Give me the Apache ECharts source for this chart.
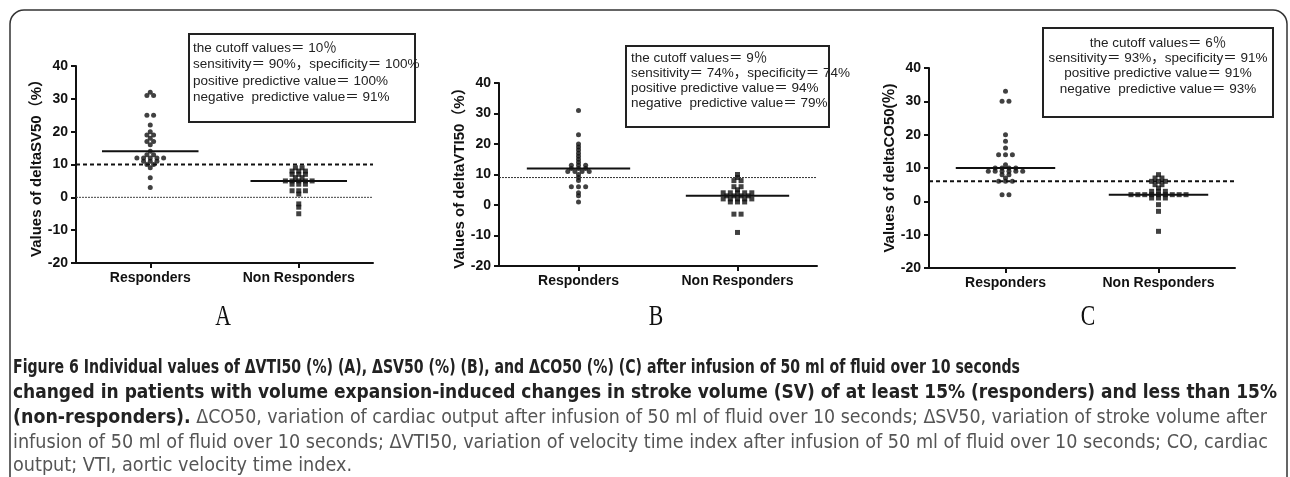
<!DOCTYPE html>
<html>
<head>
    <meta charset="utf-8">
    <title>Figure 6</title>
    <script src="https://cdn.jsdelivr.net/npm/echarts@6/dist/echarts.min.js"></script>
    <style>html,body{margin:0;padding:0;background:#fff;}</style>
</head>
<body>
<div id="main" style="width:1290px;height:477px;"></div>
<script>
    // 分组名称
    var groups = ['Responders', 'Non Responders'];

    // 各组个体值
    var svResp = [32, 31, 31, 25, 25, 22, 20, 19, 19, 18, 17, 17, 16, 14, 13, 13, 12, 12, 12, 12, 12, 11, 11, 11, 10, 10, 9, 6, 3];
    var svNon = [9, 9, 8, 8, 8, 7, 7, 7, 6, 6, 5, 5, 5, 5, 5, 4, 4, 4, 2, 2, 2, 1, -2, -3, -5];
    var vtiResp = [31, 23, 20, 19, 18, 17, 16, 15, 14, 13, 13, 13, 12, 12, 12, 11, 11, 11, 11, 10, 9, 8, 6, 6, 6, 4, 3, 1];
    var vtiNon = [10, 9, 8, 8, 6, 6, 5, 4, 4, 4, 4, 4, 3, 3, 3, 3, 2, 2, 2, 2, 2, 1, 1, 1, -3, -3, -9];
    var coResp = [33, 30, 30, 20, 18, 16, 14, 14, 14, 11, 10, 10, 10, 10, 9, 9, 9, 9, 9, 9, 8, 8, 7, 6, 6, 6, 2, 2];
    var coNon = [8, 7, 7, 6, 6, 6, 5, 5, 4, 3, 3, 3, 2, 2, 2, 2, 2, 2, 2, 2, 2, 1, 1, 1, -1, -3, -9];

    // 中位数线、截断值
    var svMed = [14, 5];
    var vtiMed = [12, 3];
    var coMed = [10, 2];
    var cutoffs = [10, 9, 6];

    // 纵轴刻度
    var yMin = -20, yMax = 40, yStep = 10;

    var yNames = ['Values of deltaSV50（%）', 'Values of deltaVTI50（%）', 'Values of deltaCO50(％)'];
    var letters = ['A', 'B', 'C'];

    var boxA = ['the cutoff values＝ 10％', 'sensitivity＝ 90%，specificity＝ 100%', 'positive predictive value＝ 100%', 'negative  predictive value＝ 91%'];
    var boxB = ['the cutoff values＝ 9％', 'sensitivity＝ 74%，specificity＝ 74%', 'positive predictive value＝ 94%', 'negative  predictive value＝ 79%'];
    var boxC = ['the cutoff values＝ 6％', 'sensitivity＝ 93%，specificity＝ 91%', 'positive predictive value＝ 91%', 'negative  predictive value＝ 93%'];

    var cap1 = 'Figure 6 Individual values of ΔVTI50 (%) (A), ΔSV50 (%) (B), and ΔCO50 (%) (C) after infusion of 50 ml of fluid over 10 seconds';
    var cap2 = 'changed in patients with volume expansion-induced changes in stroke volume (SV) of at least 15% (responders) and less than 15%';
    var cap3b = '(non-responders).';
    var cap3r = ' ΔCO50, variation of cardiac output after infusion of 50 ml of fluid over 10 seconds; ΔSV50, variation of stroke volume after';
    var cap4 = 'infusion of 50 ml of fluid over 10 seconds; ΔVTI50, variation of velocity time index after infusion of 50 ml of fluid over 10 seconds; CO, cardiac';
    var cap5 = 'output; VTI, aortic velocity time index.';

    // ---- 布局 ----
    var grids = [
        {left: 76, top: 66, width: 297, height: 197},
        {left: 499, top: 83, width: 318, height: 183},
        {left: 929, top: 68, width: 306, height: 200}
    ];
    var ink = '#111';
    var step = 0.09, half = 0.65;

    // 相同数值横向排开（蜂群图）
    function swarm(vals, center) {
        var count = {}, seen = {}, out = [];
        vals.forEach(function (v) { count[v] = (count[v] || 0) + 1; });
        vals.forEach(function (v) {
            var i = seen[v] || 0;
            seen[v] = i + 1;
            out.push([center + (i - (count[v] - 1) / 2) * step, v]);
        });
        return out;
    }

    var panels = [
        {resp: svResp, non: svNon, med: svMed},
        {resp: vtiResp, non: vtiNon, med: vtiMed},
        {resp: coResp, non: coNon, med: coMed}
    ];

    var xAxes = [], yAxes = [], series = [];
    var nameGaps = [31, 29, 29];
    panels.forEach(function (p, i) {
        xAxes.push({
            type: 'value', gridIndex: i, min: 0, max: 4,
            axisLine: {show: true, onZero: false, lineStyle: {color: ink, width: 2}},
            axisTick: {show: true, customValues: [1, 3], length: 5, lineStyle: {color: ink, width: 2}},
            axisLabel: {
                customValues: [1, 3], margin: 8,
                formatter: function (v) { return v < 2 ? groups[0] : groups[1]; },
                color: ink, fontWeight: 'bold', fontSize: 14, fontFamily: 'Liberation Sans, Arial, sans-serif'
            },
            splitLine: {show: false}
        });
        yAxes.push({
            type: 'value', gridIndex: i, min: yMin, max: yMax, interval: yStep,
            name: yNames[i], nameLocation: 'middle', nameGap: nameGaps[i],
            nameTextStyle: {color: ink, fontWeight: 'bold', fontSize: 15, fontFamily: 'Liberation Sans, Noto Sans CJK SC, sans-serif'},
            axisLine: {show: true, onZero: false, lineStyle: {color: ink, width: 2}},
            axisTick: {show: true, length: 5, lineStyle: {color: ink, width: 2}},
            axisLabel: {color: ink, fontWeight: 'bold', fontSize: 14, margin: 8, fontFamily: 'Liberation Sans, Arial, sans-serif'},
            splitLine: {show: false}
        });
        series.push({
            type: 'scatter', xAxisIndex: i, yAxisIndex: i, symbol: 'circle', symbolSize: 5,
            itemStyle: {color: ink}, data: swarm(p.resp, 1)
        });
        series.push({
            type: 'scatter', xAxisIndex: i, yAxisIndex: i, symbol: 'rect', symbolSize: 5,
            itemStyle: {color: ink}, data: swarm(p.non, 3)
        });
        [1, 3].forEach(function (c, k) {
            series.push({
                type: 'line', xAxisIndex: i, yAxisIndex: i, symbol: 'none', silent: true,
                lineStyle: {color: ink, width: 2},
                data: [[c - half, p.med[k]], [c + half, p.med[k]]]
            });
        });
        series.push({
            type: 'line', xAxisIndex: i, yAxisIndex: i, symbol: 'none', silent: true,
            lineStyle: i === 1 ? {color: '#333', width: 1, type: [2, 1]} : {color: ink, width: 2, type: [4, 3]},
            data: [[0, cutoffs[i]], [4, cutoffs[i]]]
        });
    });
    // A 图的零线
    series.push({
        type: 'line', xAxisIndex: 0, yAxisIndex: 0, symbol: 'none', silent: true,
        lineStyle: {color: '#444', width: 1, type: [2, 1]},
        data: [[0, 0], [4, 0]]
    });

    // ---- 文字框、字母、图注 ----
    var boxFont = '13.5px "Liberation Sans", "Noto Sans CJK SC", sans-serif';
    function box(lines, rect, tx, align, y0, dy) {
        var els = [{
            type: 'rect', shape: rect, z: 10,
            style: {fill: '#fff', stroke: '#222', lineWidth: 2}
        }];
        lines.forEach(function (t, k) {
            els.push({
                type: 'text', x: tx, y: y0 + k * dy, z: 11,
                style: {text: t, font: boxFont, fill: '#222', align: align, verticalAlign: 'middle'}
            });
        });
        return els;
    }

    var ctx = document.createElement('canvas').getContext('2d');
    function textW(str, font) { ctx.font = font; return ctx.measureText(str).width; }

    var boldFont = 'bold 19px "Liberation Sans Narrow", "DejaVu Sans Condensed", "Liberation Sans", sans-serif';
    var lightFont = '19px "Liberation Sans Narrow", "DejaVu Sans Condensed", "Liberation Sans", sans-serif';
    var capX = 13;
    // 每行按原图的行宽压缩
    function capLine(t, font, fill, y, target) {
        return {
            type: 'text', x: capX, y: y, scaleX: target / textW(t, font),
            style: {text: t, font: font, fill: fill, align: 'left', verticalAlign: 'middle'}
        };
    }

    var graphics = [{
        type: 'rect', shape: {x: 10, y: 10, width: 1277, height: 520, r: 14},
        style: {fill: 'none', stroke: '#333', lineWidth: 1.5}
    }];
    graphics = graphics.concat(
        box(boxA, {x: 189, y: 34, width: 226, height: 88}, 193, 'left', 48, 16.5),
        box(boxB, {x: 626, y: 46, width: 203, height: 81}, 631, 'left', 58, 15),
        box(boxC, {x: 1043, y: 28, width: 230, height: 89}, 1158, 'center', 43, 15.3)
    );
    [223, 656, 1088].forEach(function (cx, i) {
        graphics.push({
            type: 'text', x: cx, y: 317, scaleX: 0.75,
            style: {text: letters[i], font: '29px "Liberation Serif", "DejaVu Serif", serif', fill: '#111', align: 'center', verticalAlign: 'middle'}
        });
    });
    graphics.push(capLine(cap1, boldFont, '#222', 368, 1007));
    graphics.push(capLine(cap2, boldFont, '#222', 393, 1264));
    var w3 = textW(cap3b, boldFont) + textW(cap3r, lightFont);
    graphics.push({
        type: 'text', x: capX, y: 418, scaleX: 1254 / w3,
        style: {
            text: '{b|' + cap3b + '}{r|' + cap3r + '}', align: 'left', verticalAlign: 'middle',
            rich: {b: {font: boldFont, fill: '#222'}, r: {font: lightFont, fill: '#555'}}
        }
    });
    graphics.push(capLine(cap4, lightFont, '#555', 443, 1255));
    graphics.push(capLine(cap5, lightFont, '#555', 466, 339));

    var myChart = echarts.init(document.getElementById('main'));
    myChart.setOption({
        animation: false,
        grid: grids,
        xAxis: xAxes,
        yAxis: yAxes,
        series: series,
        graphic: graphics
    });
</script>
</body>
</html>
